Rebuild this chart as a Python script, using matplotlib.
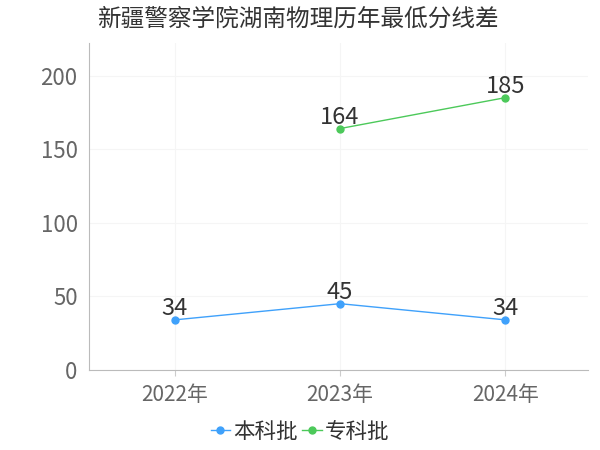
import matplotlib.pyplot as plt

plt.rcParams['font.family'] = ['Noto Sans CJK SC', 'DejaVu Sans']

years = ['2022年', '2023年', '2024年']
benke = [34, 45, 34]
zhuanke_x = [1, 2]
zhuanke = [164, 185]

fig = plt.figure(figsize=(6, 4.5), dpi=100)
ax = fig.add_axes([0.148, 0.178, 0.832, 0.726])

ax.plot(range(len(years)), benke, color='#3fa1fb', marker='o', markersize=5, linewidth=1, label='本科批')
ax.plot(zhuanke_x, zhuanke, color='#4cc95a', marker='o', markersize=5, linewidth=1, label='专科批')

for x, y in zip(range(len(years)), benke):
    ax.text(x, y, str(y), ha='center', va='bottom', fontsize=17, color='#333333')
for x, y in zip(zhuanke_x, zhuanke):
    ax.text(x, y, str(y), ha='center', va='bottom', fontsize=17, color='#333333')

ax.set_xlim(-0.52, 2.5)
ax.set_ylim(0, 222)
ax.set_xticks(range(len(years)))
ax.set_xticklabels(years)
ax.set_yticks([0, 50, 100, 150, 200])
ax.tick_params(axis='both', labelsize=15, colors='#666666', length=4)
ax.tick_params(axis='y', labelsize=16, length=0, pad=8)
ax.tick_params(axis='x', color='#cccccc', pad=6)
ax.grid(True, color='#f5f5f5', linewidth=0.8)
for s in ['top', 'right']:
    ax.spines[s].set_visible(False)
for s in ['left', 'bottom']:
    ax.spines[s].set_color('#bbbbbb')

fig.text(0.162, 0.958, '新疆警察学院湖南物理历年最低分线差', fontsize=17, color='#333333', va='center')
fig.legend(loc='center', bbox_to_anchor=(0.5, 0.04), ncol=2, frameon=False, fontsize=15.5,
           handlelength=0.9, handletextpad=0.15, columnspacing=0.2, labelcolor='#333333')

fig.savefig('out.png')
